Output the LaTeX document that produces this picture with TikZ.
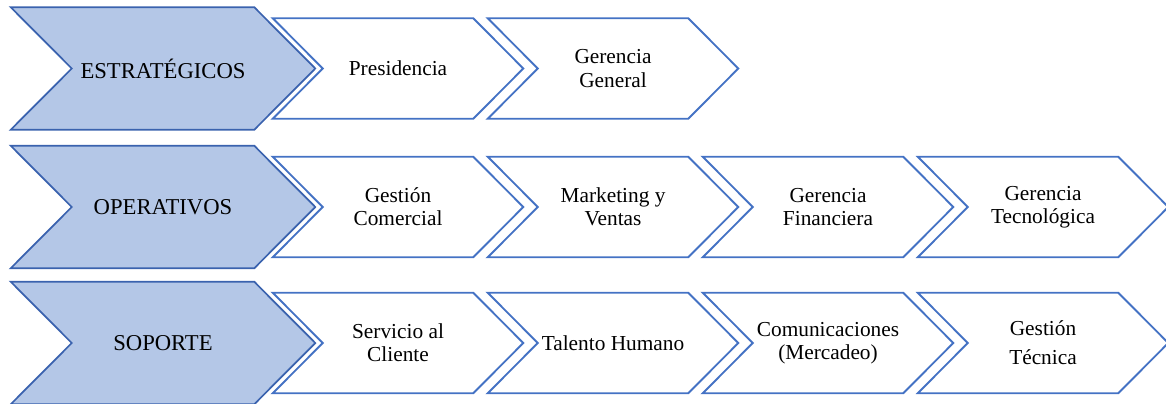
\documentclass[tikz,border=0pt]{standalone}
\usepackage{fontspec}
\setmainfont{Liberation Serif}
\usetikzlibrary{backgrounds}

\definecolor{procblue}{HTML}{4472C4}
\definecolor{procdark}{HTML}{3A62AE}
\definecolor{procfill}{HTML}{B4C7E7}

\tikzset{
    process/.style={rectangle, inner sep=0pt, align=center,
        minimum width=150pt, minimum height=75pt,
        font=\fontsize{16}{17.5}\selectfont},
    group/.style={process, minimum width=182.25pt, minimum height=91.5pt,
        font=\fontsize{17}{19}\selectfont},
    processline/.style={draw=procblue, line width=1.4pt, fill=white},
    groupline/.style={draw=procdark, line width=1.3pt, fill=procfill}
}

\begin{document}
\begin{tikzpicture}[x=0.75pt, y=-0.75pt]
    \useasboundingbox (0,0) rectangle (1166,403);

    % estrategicos
    \node[group] (est) at (163,68.5) {ESTRATÉGICOS};
    \node[process] (est1) at (398,68.5) {Presidencia};
    \node[process] (est2) at (613,68.5) {Gerencia\\General};

    % operativos
    \node[group] (ope) at (163,207) {OPERATIVOS};
    \node[process] (ope1) at (398,207) {Gestión\\Comercial};
    \node[process] (ope2) at (613,207) {Marketing y\\Ventas};
    \node[process] (ope3) at (828,207) {Gerencia\\Financiera};
    \node[process] (ope4) at (1043,207) {Gerencia\\Tecnológica};

    % soporte
    \node[group] (sop) at (163,343) {SOPORTE};
    \node[process] (sop1) at (398,343) {Servicio al\\Cliente};
    \node[process] (sop2) at (613,343) {Talento Humano};
    \node[process] (sop3) at (828,343) {Comunicaciones\\(Mercadeo)};
    \node[process] (sop4) at (1043,343) {Gestión\\[4pt]Técnica};

    % chevrons behind the labels
    \begin{scope}[on background layer]
        \foreach \n in {est, ope, sop}
            \draw[groupline] ([xshift=-22.875pt]\n.north west) -- ([xshift=-22.875pt]\n.north east)
                -- ([xshift=22.875pt]\n.east) -- ([xshift=-22.875pt]\n.south east)
                -- ([xshift=-22.875pt]\n.south west) -- ([xshift=22.875pt]\n.west) -- cycle;
        \foreach \n in {est1, est2, ope1, ope2, ope3, ope4, sop1, sop2, sop3, sop4}
            \draw[processline] ([xshift=-18.75pt]\n.north west) -- ([xshift=-18.75pt]\n.north east)
                -- ([xshift=18.75pt]\n.east) -- ([xshift=-18.75pt]\n.south east)
                -- ([xshift=-18.75pt]\n.south west) -- ([xshift=18.75pt]\n.west) -- cycle;
    \end{scope}
\end{tikzpicture}
\end{document}
